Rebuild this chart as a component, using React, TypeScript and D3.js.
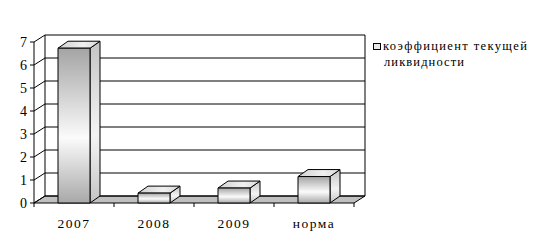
import React from "react";
import * as d3 from "d3";

const categories = ["2007", "2008", "2009", "норма"];
const values = [6.73, 0.43, 0.65, 1.15];
const yTicks = [0, 1, 2, 3, 4, 5, 6, 7];
const legendLines = ["коэффициент текущей", "ликвидности"];

const W = 535;
const H = 252;
const DX = 11;
const DY = -7;
const BDX = 10;
const BDY = -7;
const FONT = "'Liberation Serif'";

export default function App() {
  const x = d3.scaleBand<string>().domain(categories).range([34, 354]).paddingInner(0.6).paddingOuter(0.3);
  const y = d3.scaleLinear().domain([0, 7]).range([203, 42]);
  const x0 = 34, x1 = 354;
  const y0 = y(0), yTop = y(7);
  const pts = (a: number[][]) => a.map((p) => p.join(",")).join(" ");
  const catStep = x.step();
  const boundaries = d3.range(categories.length + 1).map((i) => x0 + i * catStep);
  const ts = { fontFamily: FONT };

  return (
    <svg width={W} height={H} style={{ position: "absolute", left: 0, top: 0, background: "#fff" }}>
      <defs>
        <linearGradient id="gFront" x1="0" y1="0" x2="0" y2="1">
          <stop offset="0" stopColor="#a4a4a4" />
          <stop offset="0.58" stopColor="#fbfbfb" />
          <stop offset="1" stopColor="#a8a8a8" />
        </linearGradient>
        <linearGradient id="gSide" x1="0" y1="0" x2="0" y2="1">
          <stop offset="0" stopColor="#c4c4c4" />
          <stop offset="0.58" stopColor="#f4f4f4" />
          <stop offset="1" stopColor="#c4c4c4" />
        </linearGradient>
        <linearGradient id="gTop" x1="0" y1="0" x2="1" y2="0">
          <stop offset="0" stopColor="#d0d0d0" />
          <stop offset="0.6" stopColor="#f0f0f0" />
          <stop offset="1" stopColor="#d8d8d8" />
        </linearGradient>
      </defs>
      <rect x={0} y={0} width={W} height={H} fill="#fff" />
      <polygon points={pts([[x0, y0], [x1, y0], [x1 + DX, y0 + DY], [x0 + DX, y0 + DY]])} fill="#c0c0c0" stroke="#000" strokeWidth={1} />
      {yTicks.map((t) => (
        <line key={"g" + t} x1={x0 + DX} x2={x1 + DX} y1={y(t) + DY} y2={y(t) + DY} stroke="#000" strokeWidth={1} />
      ))}
      <line x1={x0 + DX} x2={x0 + DX} y1={yTop + DY} y2={y0 + DY} stroke="#000" />
      <line x1={x1 + DX} x2={x1 + DX} y1={yTop + DY} y2={y0 + DY} stroke="#000" />
      {yTicks.map((t) => (
        <line key={"d" + t} x1={x0} y1={y(t)} x2={x0 + DX} y2={y(t) + DY} stroke="#000" />
      ))}
      <line x1={x0} x2={x0} y1={yTop} y2={y0} stroke="#000" />
      {yTicks.map((t) => (
        <g key={"t" + t}>
          <line x1={x0 - 4} x2={x0} y1={y(t)} y2={y(t)} stroke="#000" />
          <text x={27} y={y(t) + 5} fontSize={14} style={ts} textAnchor="end" fill="#000">{t}</text>
        </g>
      ))}
      {boundaries.map((b, i) => (
        <line key={"c" + i} x1={b} x2={b} y1={y0} y2={y0 + 4} stroke="#000" />
      ))}
      {categories.map((c, i) => {
        const bx = x(c)!;
        const bw = x.bandwidth();
        const by = y(values[i]);
        return (
          <g key={c} stroke="#000" strokeWidth={1} strokeLinejoin="round">
            <polygon points={pts([[bx + bw, by], [bx + bw + BDX, by + BDY], [bx + bw + BDX, y0 + BDY], [bx + bw, y0]])} fill="url(#gSide)" />
            <polygon points={pts([[bx, by], [bx + BDX, by + BDY], [bx + bw + BDX, by + BDY], [bx + bw, by]])} fill="url(#gTop)" />
            <rect x={bx} y={by} width={bw} height={y0 - by} fill="url(#gFront)" />
          </g>
        );
      })}
      {categories.map((c) => (
        <text key={"l" + c} x={x(c)! + x.bandwidth() / 2} y={228} fontSize={13.5} style={ts} textAnchor="middle" letterSpacing={1.5} fill="#000">{c}</text>
      ))}
      <rect x={373.5} y={43.5} width={7} height={6} fill="#e8e8e8" stroke="#000" />
      <text x={383} y={50} fontSize={12.5} style={ts} textLength={144} lengthAdjust="spacing" fill="#000">{legendLines[0]}</text>
      <text x={384} y={66} fontSize={12.5} style={ts} textLength={80} lengthAdjust="spacing" fill="#000">{legendLines[1]}</text>
    </svg>
  );
}
